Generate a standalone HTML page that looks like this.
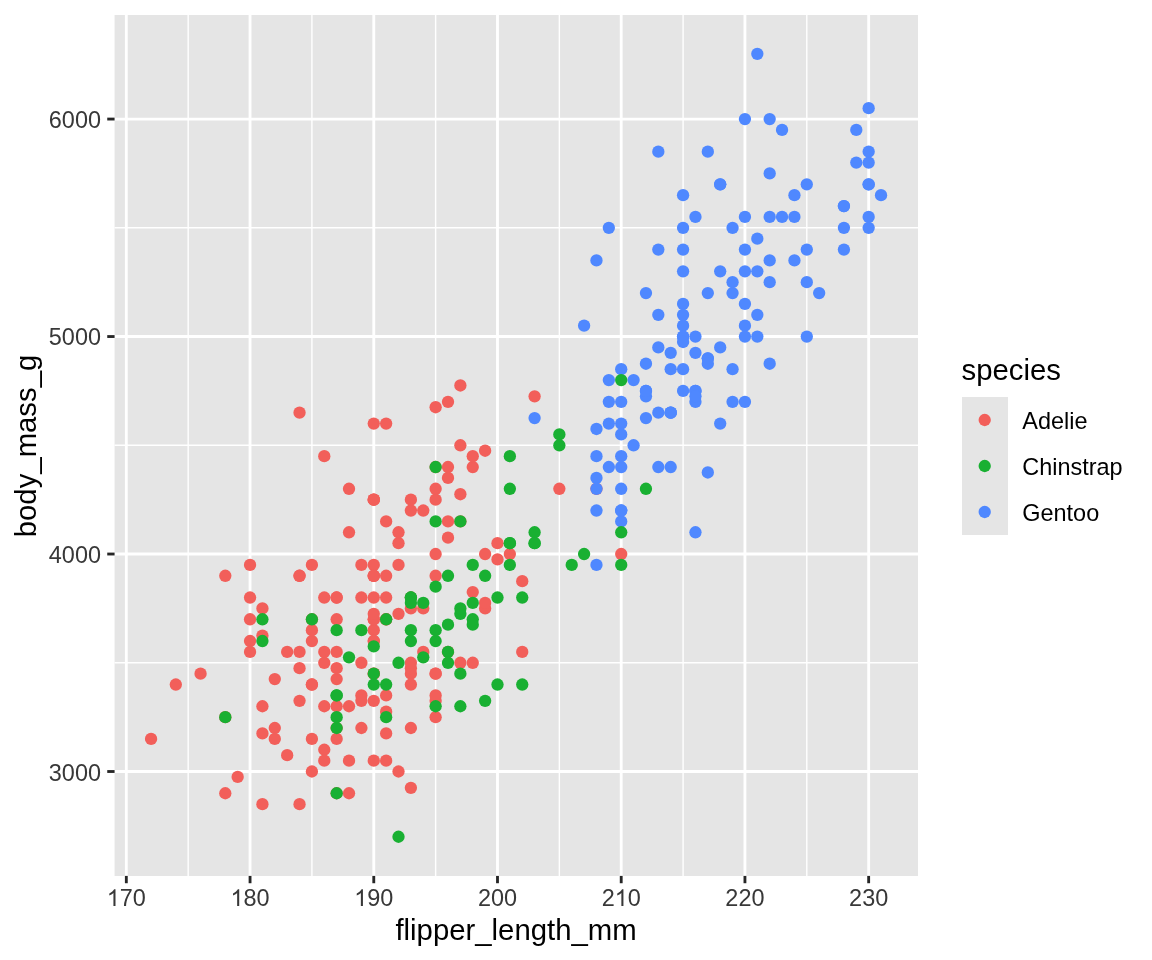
<!DOCTYPE html><html><head><meta charset="utf-8"><style>html,body{margin:0;padding:0;background:#fff;overflow:hidden}svg{display:block;will-change:transform}text{font-family:"Liberation Sans",sans-serif}</style></head><body>
<svg width="1152" height="960" viewBox="0 0 1152 960">
<rect x="114.57" y="15" width="803.43" height="861" fill="#E5E5E5"/>
<line x1="188.18" y1="15" x2="188.18" y2="876" stroke="#FFFFFF" stroke-width="1.4226"/>
<line x1="311.91" y1="15" x2="311.91" y2="876" stroke="#FFFFFF" stroke-width="1.4226"/>
<line x1="435.63" y1="15" x2="435.63" y2="876" stroke="#FFFFFF" stroke-width="1.4226"/>
<line x1="559.35" y1="15" x2="559.35" y2="876" stroke="#FFFFFF" stroke-width="1.4226"/>
<line x1="683.08" y1="15" x2="683.08" y2="876" stroke="#FFFFFF" stroke-width="1.4226"/>
<line x1="806.80" y1="15" x2="806.80" y2="876" stroke="#FFFFFF" stroke-width="1.4226"/>
<line x1="114.57" y1="662.77" x2="918" y2="662.77" stroke="#FFFFFF" stroke-width="1.4226"/>
<line x1="114.57" y1="445.28" x2="918" y2="445.28" stroke="#FFFFFF" stroke-width="1.4226"/>
<line x1="114.57" y1="227.80" x2="918" y2="227.80" stroke="#FFFFFF" stroke-width="1.4226"/>
<line x1="126.32" y1="15" x2="126.32" y2="876" stroke="#FFFFFF" stroke-width="2.845"/>
<line x1="250.05" y1="15" x2="250.05" y2="876" stroke="#FFFFFF" stroke-width="2.845"/>
<line x1="373.77" y1="15" x2="373.77" y2="876" stroke="#FFFFFF" stroke-width="2.845"/>
<line x1="497.49" y1="15" x2="497.49" y2="876" stroke="#FFFFFF" stroke-width="2.845"/>
<line x1="621.21" y1="15" x2="621.21" y2="876" stroke="#FFFFFF" stroke-width="2.845"/>
<line x1="744.94" y1="15" x2="744.94" y2="876" stroke="#FFFFFF" stroke-width="2.845"/>
<line x1="868.66" y1="15" x2="868.66" y2="876" stroke="#FFFFFF" stroke-width="2.845"/>
<line x1="114.57" y1="771.51" x2="918" y2="771.51" stroke="#FFFFFF" stroke-width="2.845"/>
<line x1="114.57" y1="554.03" x2="918" y2="554.03" stroke="#FFFFFF" stroke-width="2.845"/>
<line x1="114.57" y1="336.54" x2="918" y2="336.54" stroke="#FFFFFF" stroke-width="2.845"/>
<line x1="114.57" y1="119.06" x2="918" y2="119.06" stroke="#FFFFFF" stroke-width="2.845"/>
<circle cx="262.42" cy="608.40" r="6.16" fill="#F25F5A"/>
<circle cx="324.28" cy="597.52" r="6.16" fill="#F25F5A"/>
<circle cx="435.63" cy="717.14" r="6.16" fill="#F25F5A"/>
<circle cx="410.89" cy="673.64" r="6.16" fill="#F25F5A"/>
<circle cx="373.77" cy="630.14" r="6.16" fill="#F25F5A"/>
<circle cx="262.42" cy="635.58" r="6.16" fill="#F25F5A"/>
<circle cx="435.63" cy="407.23" r="6.16" fill="#F25F5A"/>
<circle cx="410.89" cy="668.20" r="6.16" fill="#F25F5A"/>
<circle cx="373.77" cy="499.66" r="6.16" fill="#F25F5A"/>
<circle cx="324.28" cy="706.26" r="6.16" fill="#F25F5A"/>
<circle cx="250.05" cy="619.27" r="6.16" fill="#F25F5A"/>
<circle cx="274.79" cy="728.01" r="6.16" fill="#F25F5A"/>
<circle cx="386.14" cy="597.52" r="6.16" fill="#F25F5A"/>
<circle cx="472.75" cy="467.03" r="6.16" fill="#F25F5A"/>
<circle cx="311.91" cy="619.27" r="6.16" fill="#F25F5A"/>
<circle cx="435.63" cy="673.64" r="6.16" fill="#F25F5A"/>
<circle cx="460.37" cy="445.28" r="6.16" fill="#F25F5A"/>
<circle cx="299.54" cy="700.83" r="6.16" fill="#F25F5A"/>
<circle cx="423.26" cy="510.53" r="6.16" fill="#F25F5A"/>
<circle cx="175.81" cy="684.52" r="6.16" fill="#F25F5A"/>
<circle cx="250.05" cy="641.02" r="6.16" fill="#F25F5A"/>
<circle cx="361.40" cy="597.52" r="6.16" fill="#F25F5A"/>
<circle cx="311.91" cy="564.90" r="6.16" fill="#F25F5A"/>
<circle cx="250.05" cy="597.52" r="6.16" fill="#F25F5A"/>
<circle cx="336.65" cy="597.52" r="6.16" fill="#F25F5A"/>
<circle cx="287.16" cy="651.89" r="6.16" fill="#F25F5A"/>
<circle cx="336.65" cy="728.01" r="6.16" fill="#F25F5A"/>
<circle cx="151.07" cy="738.89" r="6.16" fill="#F25F5A"/>
<circle cx="250.05" cy="564.90" r="6.16" fill="#F25F5A"/>
<circle cx="225.30" cy="717.14" r="6.16" fill="#F25F5A"/>
<circle cx="225.30" cy="575.77" r="6.16" fill="#F25F5A"/>
<circle cx="349.02" cy="706.26" r="6.16" fill="#F25F5A"/>
<circle cx="299.54" cy="575.77" r="6.16" fill="#F25F5A"/>
<circle cx="435.63" cy="700.83" r="6.16" fill="#F25F5A"/>
<circle cx="448.00" cy="521.40" r="6.16" fill="#F25F5A"/>
<circle cx="373.77" cy="564.90" r="6.16" fill="#F25F5A"/>
<circle cx="250.05" cy="651.89" r="6.16" fill="#F25F5A"/>
<circle cx="262.42" cy="706.26" r="6.16" fill="#F25F5A"/>
<circle cx="299.54" cy="412.66" r="6.16" fill="#F25F5A"/>
<circle cx="274.79" cy="738.89" r="6.16" fill="#F25F5A"/>
<circle cx="435.63" cy="575.77" r="6.16" fill="#F25F5A"/>
<circle cx="324.28" cy="749.76" r="6.16" fill="#F25F5A"/>
<circle cx="448.00" cy="467.03" r="6.16" fill="#F25F5A"/>
<circle cx="311.91" cy="771.51" r="6.16" fill="#F25F5A"/>
<circle cx="373.77" cy="423.54" r="6.16" fill="#F25F5A"/>
<circle cx="274.79" cy="679.08" r="6.16" fill="#F25F5A"/>
<circle cx="237.67" cy="776.95" r="6.16" fill="#F25F5A"/>
<circle cx="373.77" cy="673.64" r="6.16" fill="#F25F5A"/>
<circle cx="386.14" cy="521.40" r="6.16" fill="#F25F5A"/>
<circle cx="324.28" cy="662.77" r="6.16" fill="#F25F5A"/>
<circle cx="349.02" cy="488.78" r="6.16" fill="#F25F5A"/>
<circle cx="373.77" cy="673.64" r="6.16" fill="#F25F5A"/>
<circle cx="497.49" cy="543.15" r="6.16" fill="#F25F5A"/>
<circle cx="336.65" cy="793.26" r="6.16" fill="#F25F5A"/>
<circle cx="386.14" cy="619.27" r="6.16" fill="#F25F5A"/>
<circle cx="324.28" cy="651.89" r="6.16" fill="#F25F5A"/>
<circle cx="410.89" cy="597.52" r="6.16" fill="#F25F5A"/>
<circle cx="262.42" cy="804.13" r="6.16" fill="#F25F5A"/>
<circle cx="423.26" cy="608.40" r="6.16" fill="#F25F5A"/>
<circle cx="311.91" cy="738.89" r="6.16" fill="#F25F5A"/>
<circle cx="435.63" cy="467.03" r="6.16" fill="#F25F5A"/>
<circle cx="311.91" cy="641.02" r="6.16" fill="#F25F5A"/>
<circle cx="398.51" cy="543.15" r="6.16" fill="#F25F5A"/>
<circle cx="299.54" cy="804.13" r="6.16" fill="#F25F5A"/>
<circle cx="398.51" cy="564.90" r="6.16" fill="#F25F5A"/>
<circle cx="435.63" cy="695.39" r="6.16" fill="#F25F5A"/>
<circle cx="349.02" cy="532.28" r="6.16" fill="#F25F5A"/>
<circle cx="373.77" cy="760.63" r="6.16" fill="#F25F5A"/>
<circle cx="472.75" cy="456.16" r="6.16" fill="#F25F5A"/>
<circle cx="373.77" cy="641.02" r="6.16" fill="#F25F5A"/>
<circle cx="373.77" cy="575.77" r="6.16" fill="#F25F5A"/>
<circle cx="448.00" cy="651.89" r="6.16" fill="#F25F5A"/>
<circle cx="460.37" cy="521.40" r="6.16" fill="#F25F5A"/>
<circle cx="373.77" cy="619.27" r="6.16" fill="#F25F5A"/>
<circle cx="435.63" cy="499.66" r="6.16" fill="#F25F5A"/>
<circle cx="386.14" cy="619.27" r="6.16" fill="#F25F5A"/>
<circle cx="299.54" cy="575.77" r="6.16" fill="#F25F5A"/>
<circle cx="336.65" cy="651.89" r="6.16" fill="#F25F5A"/>
<circle cx="435.63" cy="554.03" r="6.16" fill="#F25F5A"/>
<circle cx="361.40" cy="728.01" r="6.16" fill="#F25F5A"/>
<circle cx="448.00" cy="401.79" r="6.16" fill="#F25F5A"/>
<circle cx="336.65" cy="597.52" r="6.16" fill="#F25F5A"/>
<circle cx="410.89" cy="510.53" r="6.16" fill="#F25F5A"/>
<circle cx="386.14" cy="695.39" r="6.16" fill="#F25F5A"/>
<circle cx="423.26" cy="651.89" r="6.16" fill="#F25F5A"/>
<circle cx="373.77" cy="597.52" r="6.16" fill="#F25F5A"/>
<circle cx="361.40" cy="662.77" r="6.16" fill="#F25F5A"/>
<circle cx="361.40" cy="564.90" r="6.16" fill="#F25F5A"/>
<circle cx="373.77" cy="641.02" r="6.16" fill="#F25F5A"/>
<circle cx="522.24" cy="651.89" r="6.16" fill="#F25F5A"/>
<circle cx="559.35" cy="488.78" r="6.16" fill="#F25F5A"/>
<circle cx="311.91" cy="684.52" r="6.16" fill="#F25F5A"/>
<circle cx="324.28" cy="456.16" r="6.16" fill="#F25F5A"/>
<circle cx="336.65" cy="706.26" r="6.16" fill="#F25F5A"/>
<circle cx="596.47" cy="488.78" r="6.16" fill="#F25F5A"/>
<circle cx="373.77" cy="619.27" r="6.16" fill="#F25F5A"/>
<circle cx="448.00" cy="477.91" r="6.16" fill="#F25F5A"/>
<circle cx="225.30" cy="793.26" r="6.16" fill="#F25F5A"/>
<circle cx="398.51" cy="532.28" r="6.16" fill="#F25F5A"/>
<circle cx="398.51" cy="613.83" r="6.16" fill="#F25F5A"/>
<circle cx="534.61" cy="396.35" r="6.16" fill="#F25F5A"/>
<circle cx="287.16" cy="755.20" r="6.16" fill="#F25F5A"/>
<circle cx="373.77" cy="499.66" r="6.16" fill="#F25F5A"/>
<circle cx="410.89" cy="787.82" r="6.16" fill="#F25F5A"/>
<circle cx="299.54" cy="651.89" r="6.16" fill="#F25F5A"/>
<circle cx="485.12" cy="608.40" r="6.16" fill="#F25F5A"/>
<circle cx="373.77" cy="575.77" r="6.16" fill="#F25F5A"/>
<circle cx="262.42" cy="733.45" r="6.16" fill="#F25F5A"/>
<circle cx="460.37" cy="385.48" r="6.16" fill="#F25F5A"/>
<circle cx="472.75" cy="592.09" r="6.16" fill="#F25F5A"/>
<circle cx="386.14" cy="423.54" r="6.16" fill="#F25F5A"/>
<circle cx="410.89" cy="728.01" r="6.16" fill="#F25F5A"/>
<circle cx="460.37" cy="494.22" r="6.16" fill="#F25F5A"/>
<circle cx="386.14" cy="575.77" r="6.16" fill="#F25F5A"/>
<circle cx="448.00" cy="537.71" r="6.16" fill="#F25F5A"/>
<circle cx="349.02" cy="793.26" r="6.16" fill="#F25F5A"/>
<circle cx="485.12" cy="602.96" r="6.16" fill="#F25F5A"/>
<circle cx="361.40" cy="695.39" r="6.16" fill="#F25F5A"/>
<circle cx="361.40" cy="700.83" r="6.16" fill="#F25F5A"/>
<circle cx="336.65" cy="738.89" r="6.16" fill="#F25F5A"/>
<circle cx="472.75" cy="662.77" r="6.16" fill="#F25F5A"/>
<circle cx="200.56" cy="673.64" r="6.16" fill="#F25F5A"/>
<circle cx="522.24" cy="581.21" r="6.16" fill="#F25F5A"/>
<circle cx="324.28" cy="760.63" r="6.16" fill="#F25F5A"/>
<circle cx="485.12" cy="554.03" r="6.16" fill="#F25F5A"/>
<circle cx="386.14" cy="711.70" r="6.16" fill="#F25F5A"/>
<circle cx="435.63" cy="488.78" r="6.16" fill="#F25F5A"/>
<circle cx="386.14" cy="760.63" r="6.16" fill="#F25F5A"/>
<circle cx="621.21" cy="554.03" r="6.16" fill="#F25F5A"/>
<circle cx="373.77" cy="700.83" r="6.16" fill="#F25F5A"/>
<circle cx="460.37" cy="662.77" r="6.16" fill="#F25F5A"/>
<circle cx="410.89" cy="662.77" r="6.16" fill="#F25F5A"/>
<circle cx="485.12" cy="450.72" r="6.16" fill="#F25F5A"/>
<circle cx="336.65" cy="679.08" r="6.16" fill="#F25F5A"/>
<circle cx="373.77" cy="575.77" r="6.16" fill="#F25F5A"/>
<circle cx="386.14" cy="733.45" r="6.16" fill="#F25F5A"/>
<circle cx="497.49" cy="559.46" r="6.16" fill="#F25F5A"/>
<circle cx="311.91" cy="684.52" r="6.16" fill="#F25F5A"/>
<circle cx="410.89" cy="499.66" r="6.16" fill="#F25F5A"/>
<circle cx="410.89" cy="684.52" r="6.16" fill="#F25F5A"/>
<circle cx="336.65" cy="668.20" r="6.16" fill="#F25F5A"/>
<circle cx="349.02" cy="760.63" r="6.16" fill="#F25F5A"/>
<circle cx="373.77" cy="613.83" r="6.16" fill="#F25F5A"/>
<circle cx="398.51" cy="771.51" r="6.16" fill="#F25F5A"/>
<circle cx="311.91" cy="630.14" r="6.16" fill="#F25F5A"/>
<circle cx="373.77" cy="499.66" r="6.16" fill="#F25F5A"/>
<circle cx="299.54" cy="668.20" r="6.16" fill="#F25F5A"/>
<circle cx="435.63" cy="673.64" r="6.16" fill="#F25F5A"/>
<circle cx="410.89" cy="608.40" r="6.16" fill="#F25F5A"/>
<circle cx="336.65" cy="619.27" r="6.16" fill="#F25F5A"/>
<circle cx="509.86" cy="554.03" r="6.16" fill="#F25F5A"/>
<circle cx="633.59" cy="445.28" r="6.16" fill="#4F88FF"/>
<circle cx="868.66" cy="184.31" r="6.16" fill="#4F88FF"/>
<circle cx="621.21" cy="456.16" r="6.16" fill="#4F88FF"/>
<circle cx="720.19" cy="184.31" r="6.16" fill="#4F88FF"/>
<circle cx="683.08" cy="249.55" r="6.16" fill="#4F88FF"/>
<circle cx="621.21" cy="434.41" r="6.16" fill="#4F88FF"/>
<circle cx="633.59" cy="380.04" r="6.16" fill="#4F88FF"/>
<circle cx="732.56" cy="293.05" r="6.16" fill="#4F88FF"/>
<circle cx="608.84" cy="467.03" r="6.16" fill="#4F88FF"/>
<circle cx="683.08" cy="303.92" r="6.16" fill="#4F88FF"/>
<circle cx="670.70" cy="412.66" r="6.16" fill="#4F88FF"/>
<circle cx="695.45" cy="216.93" r="6.16" fill="#4F88FF"/>
<circle cx="670.70" cy="412.66" r="6.16" fill="#4F88FF"/>
<circle cx="658.33" cy="151.68" r="6.16" fill="#4F88FF"/>
<circle cx="621.21" cy="510.53" r="6.16" fill="#4F88FF"/>
<circle cx="707.82" cy="151.68" r="6.16" fill="#4F88FF"/>
<circle cx="621.21" cy="521.40" r="6.16" fill="#4F88FF"/>
<circle cx="757.31" cy="53.82" r="6.16" fill="#4F88FF"/>
<circle cx="608.84" cy="380.04" r="6.16" fill="#4F88FF"/>
<circle cx="769.68" cy="260.43" r="6.16" fill="#4F88FF"/>
<circle cx="720.19" cy="184.31" r="6.16" fill="#4F88FF"/>
<circle cx="683.08" cy="336.54" r="6.16" fill="#4F88FF"/>
<circle cx="658.33" cy="467.03" r="6.16" fill="#4F88FF"/>
<circle cx="683.08" cy="325.67" r="6.16" fill="#4F88FF"/>
<circle cx="683.08" cy="336.54" r="6.16" fill="#4F88FF"/>
<circle cx="683.08" cy="314.80" r="6.16" fill="#4F88FF"/>
<circle cx="695.45" cy="532.28" r="6.16" fill="#4F88FF"/>
<circle cx="683.08" cy="195.18" r="6.16" fill="#4F88FF"/>
<circle cx="621.21" cy="423.54" r="6.16" fill="#4F88FF"/>
<circle cx="744.94" cy="216.93" r="6.16" fill="#4F88FF"/>
<circle cx="769.68" cy="282.17" r="6.16" fill="#4F88FF"/>
<circle cx="608.84" cy="401.79" r="6.16" fill="#4F88FF"/>
<circle cx="584.10" cy="325.67" r="6.16" fill="#4F88FF"/>
<circle cx="868.66" cy="108.19" r="6.16" fill="#4F88FF"/>
<circle cx="744.94" cy="303.92" r="6.16" fill="#4F88FF"/>
<circle cx="744.94" cy="249.55" r="6.16" fill="#4F88FF"/>
<circle cx="658.33" cy="347.42" r="6.16" fill="#4F88FF"/>
<circle cx="732.56" cy="282.17" r="6.16" fill="#4F88FF"/>
<circle cx="596.47" cy="477.91" r="6.16" fill="#4F88FF"/>
<circle cx="596.47" cy="260.43" r="6.16" fill="#4F88FF"/>
<circle cx="596.47" cy="564.90" r="6.16" fill="#4F88FF"/>
<circle cx="806.80" cy="184.31" r="6.16" fill="#4F88FF"/>
<circle cx="621.21" cy="488.78" r="6.16" fill="#4F88FF"/>
<circle cx="695.45" cy="390.91" r="6.16" fill="#4F88FF"/>
<circle cx="769.68" cy="216.93" r="6.16" fill="#4F88FF"/>
<circle cx="707.82" cy="358.29" r="6.16" fill="#4F88FF"/>
<circle cx="621.21" cy="510.53" r="6.16" fill="#4F88FF"/>
<circle cx="806.80" cy="249.55" r="6.16" fill="#4F88FF"/>
<circle cx="658.33" cy="314.80" r="6.16" fill="#4F88FF"/>
<circle cx="683.08" cy="271.30" r="6.16" fill="#4F88FF"/>
<circle cx="621.21" cy="369.17" r="6.16" fill="#4F88FF"/>
<circle cx="744.94" cy="271.30" r="6.16" fill="#4F88FF"/>
<circle cx="621.21" cy="467.03" r="6.16" fill="#4F88FF"/>
<circle cx="806.80" cy="336.54" r="6.16" fill="#4F88FF"/>
<circle cx="707.82" cy="358.29" r="6.16" fill="#4F88FF"/>
<circle cx="744.94" cy="325.67" r="6.16" fill="#4F88FF"/>
<circle cx="596.47" cy="488.78" r="6.16" fill="#4F88FF"/>
<circle cx="744.94" cy="336.54" r="6.16" fill="#4F88FF"/>
<circle cx="596.47" cy="456.16" r="6.16" fill="#4F88FF"/>
<circle cx="794.43" cy="216.93" r="6.16" fill="#4F88FF"/>
<circle cx="596.47" cy="510.53" r="6.16" fill="#4F88FF"/>
<circle cx="757.31" cy="271.30" r="6.16" fill="#4F88FF"/>
<circle cx="670.70" cy="467.03" r="6.16" fill="#4F88FF"/>
<circle cx="881.03" cy="195.18" r="6.16" fill="#4F88FF"/>
<circle cx="732.56" cy="401.79" r="6.16" fill="#4F88FF"/>
<circle cx="868.66" cy="184.31" r="6.16" fill="#4F88FF"/>
<circle cx="670.70" cy="412.66" r="6.16" fill="#4F88FF"/>
<circle cx="856.29" cy="162.56" r="6.16" fill="#4F88FF"/>
<circle cx="744.94" cy="401.79" r="6.16" fill="#4F88FF"/>
<circle cx="782.05" cy="216.93" r="6.16" fill="#4F88FF"/>
<circle cx="695.45" cy="390.91" r="6.16" fill="#4F88FF"/>
<circle cx="757.31" cy="336.54" r="6.16" fill="#4F88FF"/>
<circle cx="757.31" cy="314.80" r="6.16" fill="#4F88FF"/>
<circle cx="707.82" cy="293.05" r="6.16" fill="#4F88FF"/>
<circle cx="695.45" cy="401.79" r="6.16" fill="#4F88FF"/>
<circle cx="868.66" cy="162.56" r="6.16" fill="#4F88FF"/>
<circle cx="608.84" cy="423.54" r="6.16" fill="#4F88FF"/>
<circle cx="744.94" cy="119.06" r="6.16" fill="#4F88FF"/>
<circle cx="683.08" cy="390.91" r="6.16" fill="#4F88FF"/>
<circle cx="782.05" cy="129.94" r="6.16" fill="#4F88FF"/>
<circle cx="645.96" cy="418.10" r="6.16" fill="#4F88FF"/>
<circle cx="757.31" cy="238.68" r="6.16" fill="#4F88FF"/>
<circle cx="645.96" cy="396.35" r="6.16" fill="#4F88FF"/>
<circle cx="794.43" cy="260.43" r="6.16" fill="#4F88FF"/>
<circle cx="645.96" cy="390.91" r="6.16" fill="#4F88FF"/>
<circle cx="843.92" cy="206.05" r="6.16" fill="#4F88FF"/>
<circle cx="720.19" cy="423.54" r="6.16" fill="#4F88FF"/>
<circle cx="720.19" cy="271.30" r="6.16" fill="#4F88FF"/>
<circle cx="645.96" cy="363.73" r="6.16" fill="#4F88FF"/>
<circle cx="868.66" cy="216.93" r="6.16" fill="#4F88FF"/>
<circle cx="720.19" cy="347.42" r="6.16" fill="#4F88FF"/>
<circle cx="843.92" cy="249.55" r="6.16" fill="#4F88FF"/>
<circle cx="645.96" cy="390.91" r="6.16" fill="#4F88FF"/>
<circle cx="794.43" cy="195.18" r="6.16" fill="#4F88FF"/>
<circle cx="670.70" cy="369.17" r="6.16" fill="#4F88FF"/>
<circle cx="819.17" cy="293.05" r="6.16" fill="#4F88FF"/>
<circle cx="695.45" cy="352.86" r="6.16" fill="#4F88FF"/>
<circle cx="769.68" cy="363.73" r="6.16" fill="#4F88FF"/>
<circle cx="534.61" cy="418.10" r="6.16" fill="#4F88FF"/>
<circle cx="806.80" cy="282.17" r="6.16" fill="#4F88FF"/>
<circle cx="732.56" cy="369.17" r="6.16" fill="#4F88FF"/>
<circle cx="843.92" cy="206.05" r="6.16" fill="#4F88FF"/>
<circle cx="683.08" cy="341.98" r="6.16" fill="#4F88FF"/>
<circle cx="843.92" cy="227.80" r="6.16" fill="#4F88FF"/>
<circle cx="695.45" cy="396.35" r="6.16" fill="#4F88FF"/>
<circle cx="683.08" cy="227.80" r="6.16" fill="#4F88FF"/>
<circle cx="621.21" cy="401.79" r="6.16" fill="#4F88FF"/>
<circle cx="732.56" cy="227.80" r="6.16" fill="#4F88FF"/>
<circle cx="596.47" cy="428.97" r="6.16" fill="#4F88FF"/>
<circle cx="608.84" cy="227.80" r="6.16" fill="#4F88FF"/>
<circle cx="695.45" cy="336.54" r="6.16" fill="#4F88FF"/>
<circle cx="856.29" cy="129.94" r="6.16" fill="#4F88FF"/>
<circle cx="658.33" cy="412.66" r="6.16" fill="#4F88FF"/>
<circle cx="868.66" cy="227.80" r="6.16" fill="#4F88FF"/>
<circle cx="707.82" cy="472.47" r="6.16" fill="#4F88FF"/>
<circle cx="868.66" cy="151.68" r="6.16" fill="#4F88FF"/>
<circle cx="707.82" cy="363.73" r="6.16" fill="#4F88FF"/>
<circle cx="769.68" cy="119.06" r="6.16" fill="#4F88FF"/>
<circle cx="670.70" cy="352.86" r="6.16" fill="#4F88FF"/>
<circle cx="683.08" cy="369.17" r="6.16" fill="#4F88FF"/>
<circle cx="769.68" cy="173.43" r="6.16" fill="#4F88FF"/>
<circle cx="645.96" cy="293.05" r="6.16" fill="#4F88FF"/>
<circle cx="658.33" cy="249.55" r="6.16" fill="#4F88FF"/>
<circle cx="398.51" cy="662.77" r="6.16" fill="#19B032"/>
<circle cx="448.00" cy="575.77" r="6.16" fill="#19B032"/>
<circle cx="410.89" cy="630.14" r="6.16" fill="#19B032"/>
<circle cx="349.02" cy="657.33" r="6.16" fill="#19B032"/>
<circle cx="460.37" cy="613.83" r="6.16" fill="#19B032"/>
<circle cx="472.75" cy="564.90" r="6.16" fill="#19B032"/>
<circle cx="225.30" cy="717.14" r="6.16" fill="#19B032"/>
<circle cx="460.37" cy="608.40" r="6.16" fill="#19B032"/>
<circle cx="435.63" cy="521.40" r="6.16" fill="#19B032"/>
<circle cx="472.75" cy="619.27" r="6.16" fill="#19B032"/>
<circle cx="410.89" cy="597.52" r="6.16" fill="#19B032"/>
<circle cx="423.26" cy="602.96" r="6.16" fill="#19B032"/>
<circle cx="311.91" cy="619.27" r="6.16" fill="#19B032"/>
<circle cx="509.86" cy="543.15" r="6.16" fill="#19B032"/>
<circle cx="373.77" cy="646.46" r="6.16" fill="#19B032"/>
<circle cx="509.86" cy="543.15" r="6.16" fill="#19B032"/>
<circle cx="460.37" cy="706.26" r="6.16" fill="#19B032"/>
<circle cx="262.42" cy="619.27" r="6.16" fill="#19B032"/>
<circle cx="373.77" cy="673.64" r="6.16" fill="#19B032"/>
<circle cx="435.63" cy="467.03" r="6.16" fill="#19B032"/>
<circle cx="262.42" cy="641.02" r="6.16" fill="#19B032"/>
<circle cx="386.14" cy="684.52" r="6.16" fill="#19B032"/>
<circle cx="336.65" cy="793.26" r="6.16" fill="#19B032"/>
<circle cx="410.89" cy="597.52" r="6.16" fill="#19B032"/>
<circle cx="435.63" cy="706.26" r="6.16" fill="#19B032"/>
<circle cx="460.37" cy="521.40" r="6.16" fill="#19B032"/>
<circle cx="497.49" cy="684.52" r="6.16" fill="#19B032"/>
<circle cx="497.49" cy="597.52" r="6.16" fill="#19B032"/>
<circle cx="386.14" cy="619.27" r="6.16" fill="#19B032"/>
<circle cx="559.35" cy="434.41" r="6.16" fill="#19B032"/>
<circle cx="336.65" cy="728.01" r="6.16" fill="#19B032"/>
<circle cx="509.86" cy="488.78" r="6.16" fill="#19B032"/>
<circle cx="336.65" cy="695.39" r="6.16" fill="#19B032"/>
<circle cx="534.61" cy="532.28" r="6.16" fill="#19B032"/>
<circle cx="435.63" cy="641.02" r="6.16" fill="#19B032"/>
<circle cx="485.12" cy="575.77" r="6.16" fill="#19B032"/>
<circle cx="435.63" cy="586.65" r="6.16" fill="#19B032"/>
<circle cx="621.21" cy="380.04" r="6.16" fill="#19B032"/>
<circle cx="398.51" cy="836.75" r="6.16" fill="#19B032"/>
<circle cx="559.35" cy="445.28" r="6.16" fill="#19B032"/>
<circle cx="621.21" cy="564.90" r="6.16" fill="#19B032"/>
<circle cx="336.65" cy="630.14" r="6.16" fill="#19B032"/>
<circle cx="448.00" cy="651.89" r="6.16" fill="#19B032"/>
<circle cx="448.00" cy="662.77" r="6.16" fill="#19B032"/>
<circle cx="448.00" cy="624.71" r="6.16" fill="#19B032"/>
<circle cx="509.86" cy="456.16" r="6.16" fill="#19B032"/>
<circle cx="373.77" cy="684.52" r="6.16" fill="#19B032"/>
<circle cx="645.96" cy="488.78" r="6.16" fill="#19B032"/>
<circle cx="336.65" cy="717.14" r="6.16" fill="#19B032"/>
<circle cx="472.75" cy="624.71" r="6.16" fill="#19B032"/>
<circle cx="485.12" cy="700.83" r="6.16" fill="#19B032"/>
<circle cx="509.86" cy="564.90" r="6.16" fill="#19B032"/>
<circle cx="410.89" cy="641.02" r="6.16" fill="#19B032"/>
<circle cx="534.61" cy="543.15" r="6.16" fill="#19B032"/>
<circle cx="336.65" cy="695.39" r="6.16" fill="#19B032"/>
<circle cx="460.37" cy="673.64" r="6.16" fill="#19B032"/>
<circle cx="386.14" cy="717.14" r="6.16" fill="#19B032"/>
<circle cx="534.61" cy="543.15" r="6.16" fill="#19B032"/>
<circle cx="522.24" cy="597.52" r="6.16" fill="#19B032"/>
<circle cx="423.26" cy="657.33" r="6.16" fill="#19B032"/>
<circle cx="571.73" cy="564.90" r="6.16" fill="#19B032"/>
<circle cx="361.40" cy="630.14" r="6.16" fill="#19B032"/>
<circle cx="435.63" cy="630.14" r="6.16" fill="#19B032"/>
<circle cx="584.10" cy="554.03" r="6.16" fill="#19B032"/>
<circle cx="522.24" cy="684.52" r="6.16" fill="#19B032"/>
<circle cx="410.89" cy="602.96" r="6.16" fill="#19B032"/>
<circle cx="621.21" cy="532.28" r="6.16" fill="#19B032"/>
<circle cx="472.75" cy="602.96" r="6.16" fill="#19B032"/>
<line x1="126.32" y1="875.90" x2="126.32" y2="883.23" stroke="#262626" stroke-width="2.845"/>
<path transform="translate(106.75,906.1) scale(0.011458,-0.011458)" d="M763 0H583V1147Q518 1085 412 1023Q306 961 222 930V1104Q373 1175 486 1276Q599 1377 646 1472H763Z" fill="#383838"/>
<text x="119.80" y="906.1" font-size="23.467" fill="#383838">7</text>
<text x="132.85" y="906.1" font-size="23.467" fill="#383838">0</text>
<line x1="250.05" y1="875.90" x2="250.05" y2="883.23" stroke="#262626" stroke-width="2.845"/>
<path transform="translate(230.47,906.1) scale(0.011458,-0.011458)" d="M763 0H583V1147Q518 1085 412 1023Q306 961 222 930V1104Q373 1175 486 1276Q599 1377 646 1472H763Z" fill="#383838"/>
<text x="243.52" y="906.1" font-size="23.467" fill="#383838">8</text>
<text x="256.57" y="906.1" font-size="23.467" fill="#383838">0</text>
<line x1="373.77" y1="875.90" x2="373.77" y2="883.23" stroke="#262626" stroke-width="2.845"/>
<path transform="translate(354.19,906.1) scale(0.011458,-0.011458)" d="M763 0H583V1147Q518 1085 412 1023Q306 961 222 930V1104Q373 1175 486 1276Q599 1377 646 1472H763Z" fill="#383838"/>
<text x="367.24" y="906.1" font-size="23.467" fill="#383838">9</text>
<text x="380.29" y="906.1" font-size="23.467" fill="#383838">0</text>
<line x1="497.49" y1="875.90" x2="497.49" y2="883.23" stroke="#262626" stroke-width="2.845"/>
<text x="477.91" y="906.1" font-size="23.467" fill="#383838">2</text>
<text x="490.97" y="906.1" font-size="23.467" fill="#383838">0</text>
<text x="504.02" y="906.1" font-size="23.467" fill="#383838">0</text>
<line x1="621.21" y1="875.90" x2="621.21" y2="883.23" stroke="#262626" stroke-width="2.845"/>
<text x="601.64" y="906.1" font-size="23.467" fill="#383838">2</text>
<path transform="translate(614.69,906.1) scale(0.011458,-0.011458)" d="M763 0H583V1147Q518 1085 412 1023Q306 961 222 930V1104Q373 1175 486 1276Q599 1377 646 1472H763Z" fill="#383838"/>
<text x="627.74" y="906.1" font-size="23.467" fill="#383838">0</text>
<line x1="744.94" y1="875.90" x2="744.94" y2="883.23" stroke="#262626" stroke-width="2.845"/>
<text x="725.36" y="906.1" font-size="23.467" fill="#383838">2</text>
<text x="738.41" y="906.1" font-size="23.467" fill="#383838">2</text>
<text x="751.46" y="906.1" font-size="23.467" fill="#383838">0</text>
<line x1="868.66" y1="875.90" x2="868.66" y2="883.23" stroke="#262626" stroke-width="2.845"/>
<text x="849.08" y="906.1" font-size="23.467" fill="#383838">2</text>
<text x="862.13" y="906.1" font-size="23.467" fill="#383838">3</text>
<text x="875.19" y="906.1" font-size="23.467" fill="#383838">0</text>
<line x1="107.24" y1="771.51" x2="114.57" y2="771.51" stroke="#262626" stroke-width="2.845"/>
<text x="101.0" y="780.91" font-size="23.467" fill="#383838" text-anchor="end">3000</text>
<line x1="107.24" y1="554.03" x2="114.57" y2="554.03" stroke="#262626" stroke-width="2.845"/>
<text x="101.0" y="563.33" font-size="23.467" fill="#383838" text-anchor="end">4000</text>
<line x1="107.24" y1="336.54" x2="114.57" y2="336.54" stroke="#262626" stroke-width="2.845"/>
<text x="101.0" y="345.19" font-size="23.467" fill="#383838" text-anchor="end">5000</text>
<line x1="107.24" y1="119.06" x2="114.57" y2="119.06" stroke="#262626" stroke-width="2.845"/>
<text x="101.0" y="128.41" font-size="23.467" fill="#383838" text-anchor="end">6000</text>
<text x="516.05" y="940.2" font-size="29.333" fill="#000" text-anchor="middle">flipper_length_mm</text>
<text transform="translate(36.0,445.98) rotate(-90)" x="0" y="0" font-size="29.333" fill="#000" text-anchor="middle">body_mass_g</text>
<text x="961.5" y="380.0" font-size="29.333" fill="#000">species</text>
<rect x="962" y="397.0" width="46.0" height="138.00" fill="#E5E5E5"/>
<circle cx="984.7" cy="420.00" r="6.16" fill="#F25F5A"/>
<text x="1022.28" y="429.40" font-size="23.467" fill="#000">Adelie</text>
<circle cx="984.7" cy="466.00" r="6.16" fill="#19B032"/>
<text x="1022.28" y="475.40" font-size="23.467" fill="#000">Chinstrap</text>
<circle cx="984.7" cy="512.00" r="6.16" fill="#4F88FF"/>
<text x="1022.28" y="521.40" font-size="23.467" fill="#000">Gentoo</text>
</svg></body></html>
